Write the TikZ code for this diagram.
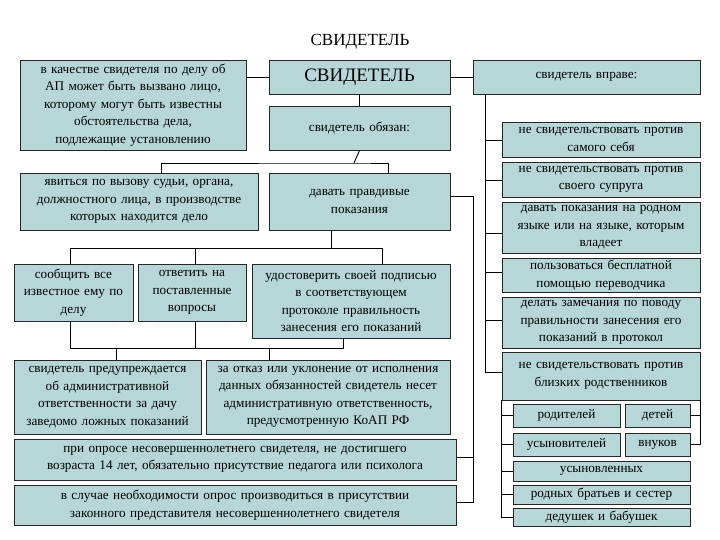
\documentclass[tikz,border=0pt]{standalone}
\usepackage{fontspec}
\setmainfont{Liberation Serif}
\definecolor{bfill}{RGB}{182,214,216}
\begin{document}
\begin{tikzpicture}[x=1pt,y=-1pt,
  box/.style={draw=black!85,line width=0.9pt,fill=bfill,inner sep=0pt},
  txt/.style={align=center,inner sep=0pt,font=\fontsize{13.2}{17.5}\selectfont},
  ln/.style={draw=black,line width=0.9pt}]
\useasboundingbox (0,0) rectangle (720,540);
\newcommand\bx[6]{\pgfmathsetmacro\bw{#4-#2}\pgfmathsetmacro\bh{#5-#3}\pgfmathsetmacro\tw{#4-#2-2}%
\node[box,minimum width=\bw pt,minimum height=\bh pt] (#1) at ({(#2+#4)/2},{(#3+#5)/2}) {};%
\node[txt,text width=\tw pt] (#1t) at (#1.center) {#6};}
\node (title) at (360,42) {\fontsize{17}{18}\selectfont СВИДЕТЕЛЬ};
\bx{lft}{20}{60}{246}{150}{в качестве свидетеля по делу об\\ АП может быть вызвано лицо,\\ которому могут быть известны\\ обстоятельства дела,\\ подлежащие установлению}
\bx{main}{269}{60}{450}{94}{\fontsize{19}{20}\selectfont СВИДЕТЕЛЬ}
\bx{obl}{269}{106}{450}{150}{свидетель обязан:}
\bx{yav}{20}{173}{258}{230}{явиться по вызову судьи, органа,\\ должностного лица, в производстве\\ которых находится дело}
\bx{dav}{269}{173}{450}{230}{давать правдивые\\ показания}
\bx{soo}{14}{264}{133}{321}{сообщить все\\ известное ему по\\ делу}
\bx{otv}{138}{264}{246}{321}{ответить на\\ поставленные\\ вопросы}
\bx{udo}{252}{264}{450}{338}{удостоверить своей подписью\\ в соответствующем\\ протоколе правильность\\ занесения его показаний}
\bx{pre}{14}{360}{201}{434}{свидетель предупреждается\\ об административной\\ ответственности за дачу\\ заведомо ложных показаний}
\bx{otk}{206}{360}{450}{434}{за отказ или уклонение от исполнения\\ данных обязанностей свидетель несет\\ административную ответственность,\\ предусмотренную КоАП РФ}
\bx{pri}{14}{439}{456}{480}{при опросе несовершеннолетнего свидетеля, не достигшего\\ возраста 14 лет, обязательно присутствие педагога или психолога}
\bx{slu}{14}{485}{456}{525}{в случае необходимости опрос производиться в присутствии\\ законного представителя несовершеннолетнего свидетеля}
\bx{vpr}{473}{60}{700}{94}{свидетель вправе:}
\bx{b1}{502}{122}{700}{157}{не свидетельствовать против\\ самого себя}
\bx{b2}{502}{162}{700}{197}{не свидетельствовать против\\ своего супруга}
\bx{b3}{502}{202}{700}{253}{давать показания на родном\\ языке или на языке, которым\\ владеет}
\bx{b4}{502}{258}{700}{292}{пользоваться бесплатной\\ помощью переводчика}
\bx{b5}{502}{297}{700}{348}{делать замечания по поводу\\ правильности занесения его\\ показаний в протокол}
\bx{b6}{502}{352}{700}{400}{не свидетельствовать против\\ близких родственников}
\bx{s1}{513}{404}{620}{427}{родителей}
\bx{s2}{625}{404}{690}{427}{детей}
\bx{s3}{513}{433}{620}{456}{усыновителей}
\bx{s4}{625}{433}{690}{456}{внуков}
\bx{s5}{513}{461}{690}{481}{усыновленных}
\bx{s6}{513}{485}{690}{504}{родных братьев и сестер}
\bx{s7}{513}{508}{690}{526}{дедушек и бабушек}
% connectors
\draw[ln] (lft.east|-main.west) -- (main.west);
\draw[ln] (main.east) -- (vpr.west);
\draw[ln] (main.south) -- (obl.north);
\coordinate (j1) at (354,163);
\draw[ln] (obl.south) -- (j1);
\draw[ln] (161,173) |- (j1) -| (388,173);
\coordinate (j2) at (331,248);
\draw[ln] (dav.south-|j2) -- (j2);
\draw[ln] (soo.north-|70,0) |- (j2);
\draw[ln] (j2) -| (udo.north-|382,0);
\draw[ln] (otv.north-|195,0) -- (195,248);
\coordinate (j3) at (195,348);
\draw[ln] (soo.south-|70,0) |- (j3) -| (otv.south-|195,0);
\draw[ln] (j3) -| (udo.south-|343,0);
\draw[ln] (pre.north-|116,0) -- (116,348);
\draw[ln] (otk.north-|269,0) -- (269,348);
\coordinate (r0) at (473,196);
\draw[ln] (dav.east|-r0) -- (r0) |- (slu.east|-473,502);
\draw[ln] (pri.east|-473,457) -- (473,457);
\coordinate (t0) at (485,94);
\draw[ln] (t0) |- (b6.west|-485,372);
\foreach \b/\yy in {b1/140,b2/180,b3/233,b4/272,b5/320}{\draw[ln] (485,\yy) -- (\b.west|-485,\yy);}
\draw[ln] (b6.south west) |- (s7.west);
\foreach \s in {s1,s3,s5,s6}{\draw[ln] (\s.west) -- (\s.west-|b6.west);}
\draw[ln] (b6.south east) |- (s4.east);
\draw[ln] (s2.east) -- (s2.east-|b6.east);
\end{tikzpicture}
\end{document}
